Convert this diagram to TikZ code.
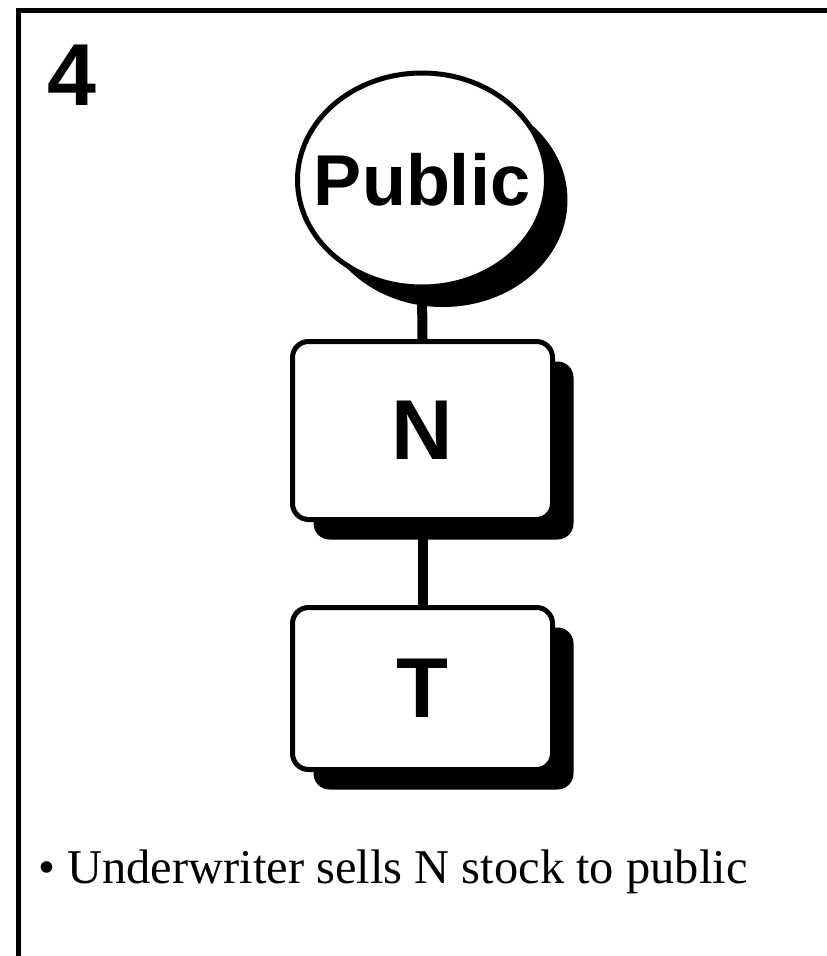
\documentclass[tikz,border=0pt]{standalone}
\usepackage{fontspec}
\setmainfont{Liberation Serif}
\newfontfamily\hvfont{Liberation Sans}
\usetikzlibrary{shapes, shadows}

\tikzset{
    blackshadow/.style={drop shadow={shadow xshift=21pt, shadow yshift=-20pt, fill=black, opacity=1}},
    party/.style={draw, fill=white, line width=5pt, rounded corners=16pt, minimum width=260pt, minimum height=178pt, blackshadow, font=\hvfont\bfseries\fontsize{85}{90}\selectfont},
    link/.style={line width=10pt}
}

\begin{document}
\begin{tikzpicture}[x=1pt, y=-1pt]
        \useasboundingbox (0,0) rectangle (827,956);

        % Draw the frame
        \draw[line width=5pt] (18,956) -- (18,10) -- (827,10);

        % Step number
        \node[anchor=base west, inner sep=0pt, font=\hvfont\bfseries\fontsize{88}{90}\selectfont] (num) at (47,105) {4};

        % Public node
        \node[ellipse, draw, fill=white, line width=5pt, minimum width=249pt, minimum height=214pt, inner sep=0pt, blackshadow] (pub) at (422,180) {};
        \node[inner sep=0pt, font=\hvfont\bfseries\fontsize{72}{76}\selectfont] (publab) at (pub.center) {Public};

        % N node
        \node[party] (n) at (422.5,430.5) {N};

        % T node
        \node[party, minimum height=162pt] (t) at (422.5,688.5) {T};

        % Links
        \draw[link] (pub.south) -- (n.north);
        \draw[link] (n.south) -- (t.north);

        % Caption
        \node[anchor=base west, inner sep=0pt, font=\fontsize{48.5}{54}\selectfont] (cap) at (38,883) {\textbullet\ Underwriter sells N stock to public};
    \end{tikzpicture}
\end{document}
